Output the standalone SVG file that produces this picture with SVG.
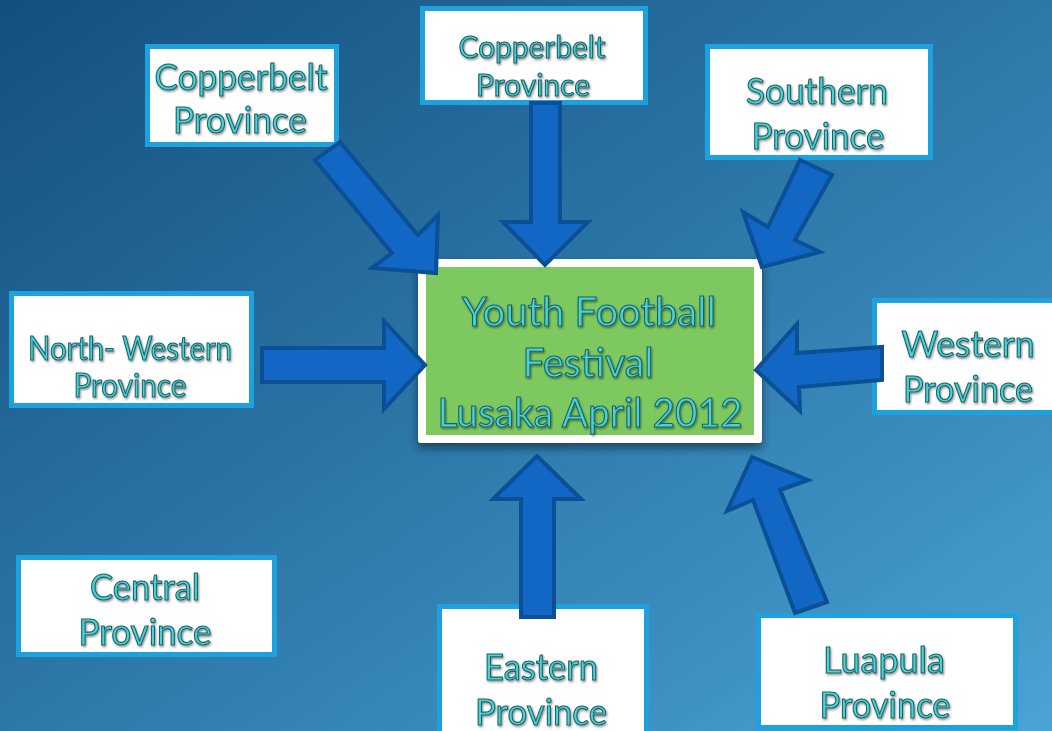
<svg xmlns="http://www.w3.org/2000/svg" width="1052" height="731" viewBox="0 0 1052 731">
<defs>
<linearGradient id="bg" x1="0" y1="0" x2="1" y2="1">
<stop offset="0" stop-color="#144f7e"/>
<stop offset="0.5" stop-color="#2c78a9"/>
<stop offset="1" stop-color="#4ba2d4"/>
</linearGradient>
<filter id="ts" x="-10%" y="-20%" width="120%" height="150%">
<feDropShadow dx="1" dy="1.5" stdDeviation="1" flood-color="#000" flood-opacity="0.45"/>
</filter>
<filter id="bs" x="-10%" y="-10%" width="120%" height="125%">
<feDropShadow dx="0" dy="5" stdDeviation="4" flood-color="#0a2a40" flood-opacity="0.7"/>
</filter>
</defs>
<style>
.box{fill:#ffffff;stroke:#1ea2dd;stroke-width:5}
.t{font-family:Lato,"Open Sans","DejaVu Sans",sans-serif;fill:#46d4d6;stroke:#1f5f66;stroke-width:1.1;text-anchor:middle;filter:url(#ts)}
.arr{fill:#1267c5;stroke:#0b4f96;stroke-width:4;stroke-linejoin:miter}
</style>
<rect x="0" y="0" width="1052" height="731" fill="url(#bg)"/>

<g id="node-copperbelt-left">
<rect class="box" x="147.5" y="46.5" width="189" height="98"/>
<text class="t" x="241" y="90" font-size="37" textLength="173" lengthAdjust="spacingAndGlyphs">Copperbelt</text>
<text class="t" x="240" y="133" font-size="37" textLength="134" lengthAdjust="spacingAndGlyphs">Province</text>
</g>
<g id="node-copperbelt-top">
<rect class="box" x="422.5" y="8.5" width="223" height="94"/>
<text class="t" x="532" y="58" font-size="31" textLength="147" lengthAdjust="spacingAndGlyphs">Copperbelt</text>
<text class="t" x="533" y="96" font-size="31" textLength="114" lengthAdjust="spacingAndGlyphs">Province</text>
</g>
<g id="node-southern">
<rect class="box" x="707.5" y="46.5" width="223" height="111"/>
<text class="t" x="817" y="104" font-size="37" textLength="142" lengthAdjust="spacingAndGlyphs">Southern</text>
<text class="t" x="818" y="149" font-size="37" textLength="133" lengthAdjust="spacingAndGlyphs">Province</text>
</g>
<g id="node-north-western">
<rect class="box" x="11.5" y="293.5" width="240" height="112"/>
<text class="t" x="130" y="360" font-size="33" textLength="204" lengthAdjust="spacingAndGlyphs">North- Western</text>
<text class="t" x="130" y="397" font-size="33" textLength="113" lengthAdjust="spacingAndGlyphs">Province</text>
</g>
<g id="node-western">
<rect class="box" x="874.5" y="300.5" width="190" height="112"/>
<text class="t" x="968" y="357" font-size="36" textLength="133" lengthAdjust="spacingAndGlyphs">Western</text>
<text class="t" x="968" y="402" font-size="36" textLength="130" lengthAdjust="spacingAndGlyphs">Province</text>
</g>
<g id="node-central">
<rect class="box" x="18.5" y="557.5" width="256" height="97"/>
<text class="t" x="145" y="600" font-size="37" textLength="110" lengthAdjust="spacingAndGlyphs">Central</text>
<text class="t" x="145" y="645" font-size="37" textLength="133" lengthAdjust="spacingAndGlyphs">Province</text>
</g>
<g id="node-eastern">
<rect class="box" x="439.5" y="606.5" width="207" height="140"/>
<text class="t" x="541" y="680" font-size="37" textLength="114" lengthAdjust="spacingAndGlyphs">Eastern</text>
<text class="t" x="541" y="725" font-size="37" textLength="132" lengthAdjust="spacingAndGlyphs">Province</text>
</g>
<g id="node-luapula">
<rect class="box" x="758.5" y="615.5" width="257" height="112"/>
<text class="t" x="884" y="673" font-size="37" textLength="122" lengthAdjust="spacingAndGlyphs">Luapula</text>
<text class="t" x="885" y="718" font-size="37" textLength="131" lengthAdjust="spacingAndGlyphs">Province</text>
</g>
<g id="node-festival">
<rect x="418" y="259" width="344" height="184" rx="3" fill="#ffffff" filter="url(#bs)"/>
<rect x="426" y="267" width="328" height="168" fill="#7ec95f"/>
<text class="t" x="589" y="326" font-size="40" textLength="254" lengthAdjust="spacingAndGlyphs">Youth Football</text>
<text class="t" x="588" y="377" font-size="40" textLength="131" lengthAdjust="spacingAndGlyphs">Festival</text>
<text class="t" x="590" y="427" font-size="40" textLength="305" lengthAdjust="spacingAndGlyphs">Lusaka April 2012</text>
</g>

<g id="connectors">
<polygon class="arr" points="531,103 560,103 560,222 588,222 545,265 503,222 531,222"/>
<polygon class="arr" points="315,160 340,142 418,235 438,215 436,273 372,268 392,253"/>
<polygon class="arr" points="800,160 832,175 795,240 820,252 762,267 743,212 768,227"/>
<polygon class="arr" points="262,348 384,348 384,321 425,365 384,409 384,382 262,382"/>
<polygon class="arr" points="882,347 882,380 799,387 800,411 756,370 797,324 797,353"/>
<polygon class="arr" points="521,617 554,617 554,499 581,499 537,456 493,499 521,499"/>
<polygon class="arr" points="795,613 827,602 780,490 808,480 752,457 727,511 753,500"/>
</g>
</svg>
